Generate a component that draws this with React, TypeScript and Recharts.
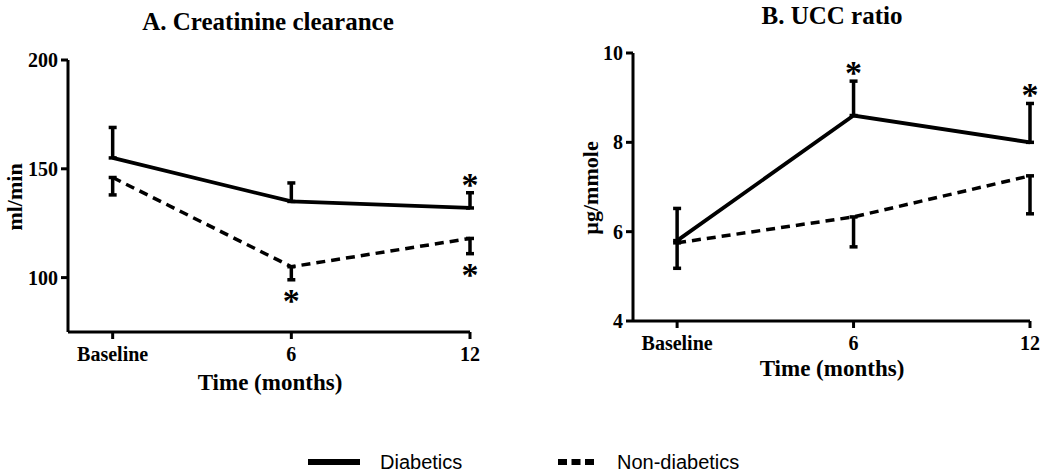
import React from 'react';
import { LineChart, Line, XAxis, YAxis, ErrorBar, LabelList, Label } from 'recharts';

const months = ['Baseline', '6', '12'];

// A. Creatinine clearance (ml/min)
const ccDiab = [155, 135, 132];
const ccDiabErr = [14, 8.5, 7];
const ccNon = [146, 105, 118];
const ccNonErr = [8, 6, 7];
const ccDiabStar = ['', '', '*'];
const ccNonStar = ['', '*', '*'];

// B. UCC ratio (µg/mmole)
const uccDiab = [5.8, 8.6, 8.0];
const uccDiabErr = [0.72, 0.77, 0.87];
const uccNon = [5.75, 6.33, 7.25];
const uccNonErr = [0.57, 0.67, 0.85];
const uccDiabStar = ['', '*', '*'];
const uccNonStar = ['', '', ''];

const SERIF = '"Liberation Serif", "Times New Roman", serif';
const SANS = '"Liberation Sans", Arial, sans-serif';

function buildRows(diab: number[], diabErr: number[], non: number[], nonErr: number[], diabStar: string[], nonStar: string[]) {
	return months.map((m, i) => ({
		x: i,
		diab: diab[i],
		diabErr: [0, diabErr[i]],
		non: non[i],
		nonErr: [nonErr[i], 0],
		diabTip: diab[i] + diabErr[i],
		nonTip: non[i] - nonErr[i],
		diabStar: diabStar[i],
		nonStar: nonStar[i],
	}));
}

const ccData = buildRows(ccDiab, ccDiabErr, ccNon, ccNonErr, ccDiabStar, ccNonStar);
const uccData = buildRows(uccDiab, uccDiabErr, uccNon, uccNonErr, uccDiabStar, uccNonStar);

const tickStyle = { fontSize: 20, fontWeight: 'bold', fill: '#000', fontFamily: SERIF };
const axisLine = { stroke: '#000', strokeWidth: 3 };
const tickLine = { stroke: '#000', strokeWidth: 3 };

const starLabel = (up: boolean) => (props: any) => {
	const { x, y, value } = props;
	if (!value) return null;
	const cy = up ? y - 13 : y + 16;
	return (
		<text x={x} y={cy + 16} textAnchor="middle" fontSize={34} fontWeight="bold" fontFamily={SERIF} fill="#000">
			{value}
		</text>
	);
};

interface PanelProps {
	data: any[];
	width: number;
	height: number;
	margin: { top: number; right: number; bottom: number; left: number };
	domain: [number, number];
	ticks: number[];
	yLabel: string;
	yLabelPos: [number, number];
	xLabelPos: [number, number];
}

function Panel({ data, width, height, margin, domain, ticks, yLabel, yLabelPos, xLabelPos }: PanelProps) {
	return (
		<LineChart width={width} height={height} data={data} margin={margin}>
			<XAxis
				dataKey="x"
				type="number"
				domain={[-0.25, 2]}
				ticks={[0, 1, 2]}
				tickFormatter={(v: number) => months[v]}
				axisLine={axisLine}
				tickLine={tickLine}
				tickSize={7}
				tickMargin={8}
				tick={tickStyle}
				height={40}
				interval={0}
			>
				<Label
					content={() => (
						<text
							x={xLabelPos[0]}
							y={xLabelPos[1]}
							textAnchor="middle"
							dominantBaseline="central"
							fontSize={23}
							fontWeight="bold"
							fontFamily={SERIF}
							fill="#000"
						>
							Time (months)
						</text>
					)}
				/>
			</XAxis>
			<YAxis
				type="number"
				domain={domain}
				ticks={ticks}
				axisLine={axisLine}
				tickLine={tickLine}
				tickSize={7}
				tickMargin={3}
				tick={tickStyle}
				width={68}
				interval={0}
			>
				<Label
					content={() => (
						<text
							x={yLabelPos[0]}
							y={yLabelPos[1]}
							transform={`rotate(-90 ${yLabelPos[0]} ${yLabelPos[1]})`}
							textAnchor="middle"
							dominantBaseline="central"
							fontSize={22}
							fontWeight="bold"
							fontFamily={SERIF}
							fill="#000"
						>
							{yLabel}
						</text>
					)}
				/>
			</YAxis>
			<Line
				type="linear"
				dataKey="non"
				stroke="#000"
				strokeWidth={3.5}
				strokeDasharray="9 6"
				dot={false}
				activeDot={false}
				isAnimationActive={false}
			>
				<ErrorBar dataKey="nonErr" direction="y" width={4} strokeWidth={3.5} stroke="#000" isAnimationActive={false} />
			</Line>
			<Line
				type="linear"
				dataKey="diab"
				stroke="#000"
				strokeWidth={3.8}
				dot={false}
				activeDot={false}
				isAnimationActive={false}
			>
				<ErrorBar dataKey="diabErr" direction="y" width={4} strokeWidth={3.5} stroke="#000" isAnimationActive={false} />
			</Line>
			<Line dataKey="diabTip" stroke="none" dot={false} activeDot={false} isAnimationActive={false}>
				<LabelList dataKey="diabStar" content={starLabel(true)} />
			</Line>
			<Line dataKey="nonTip" stroke="none" dot={false} activeDot={false} isAnimationActive={false}>
				<LabelList dataKey="nonStar" content={starLabel(false)} />
			</Line>
		</LineChart>
	);
}

const titleStyle: React.CSSProperties = {
	position: 'absolute',
	fontFamily: SERIF,
	fontWeight: 'bold',
	fontSize: 25,
	color: '#000',
	whiteSpace: 'nowrap',
	transform: 'translateX(-50%)',
	lineHeight: 1,
};

const legendText: React.CSSProperties = {
	position: 'absolute',
	fontFamily: SANS,
	fontSize: 20,
	color: '#000',
	lineHeight: 1,
	whiteSpace: 'nowrap',
};

export default function App() {
	return (
		<div style={{ position: 'absolute', left: 0, top: 0, width: 1050, height: 475, background: '#fff', overflow: 'hidden' }}>
			<div style={{ ...titleStyle, left: 268, top: 9 }}>A. Creatinine clearance</div>
			<div style={{ ...titleStyle, left: 832, top: 3 }}>B. UCC ratio</div>

			<div style={{ position: 'absolute', left: 0, top: 0 }}>
				<Panel
					data={ccData}
					width={520}
					height={400}
					margin={{ top: 60, right: 50, bottom: 28, left: 0 }}
					domain={[75, 200]}
					ticks={[100, 150, 200]}
					yLabel="ml/min"
					yLabelPos={[14, 197]}
					xLabelPos={[270, 382]}
				/>
			</div>
			<div style={{ position: 'absolute', left: 520, top: 0 }}>
				<Panel
					data={uccData}
					width={530}
					height={400}
					margin={{ top: 53, right: 20, bottom: 39, left: 45 }}
					domain={[4, 10]}
					ticks={[4, 6, 8, 10]}
					yLabel="µg/mmole"
					yLabelPos={[70, 188]}
					xLabelPos={[312, 368]}
				/>
			</div>

			<svg style={{ position: 'absolute', left: 0, top: 440 }} width={1050} height={35}>
				<line x1={308} y1={22} x2={360} y2={22} stroke="#000" strokeWidth={6} />
				<line x1={558} y1={22} x2={594} y2={22} stroke="#000" strokeWidth={6} strokeDasharray="9 4.5" />
			</svg>
			<div style={{ ...legendText, left: 380, top: 452 }}>Diabetics</div>
			<div style={{ ...legendText, left: 617, top: 452 }}>Non-diabetics</div>
		</div>
	);
}
